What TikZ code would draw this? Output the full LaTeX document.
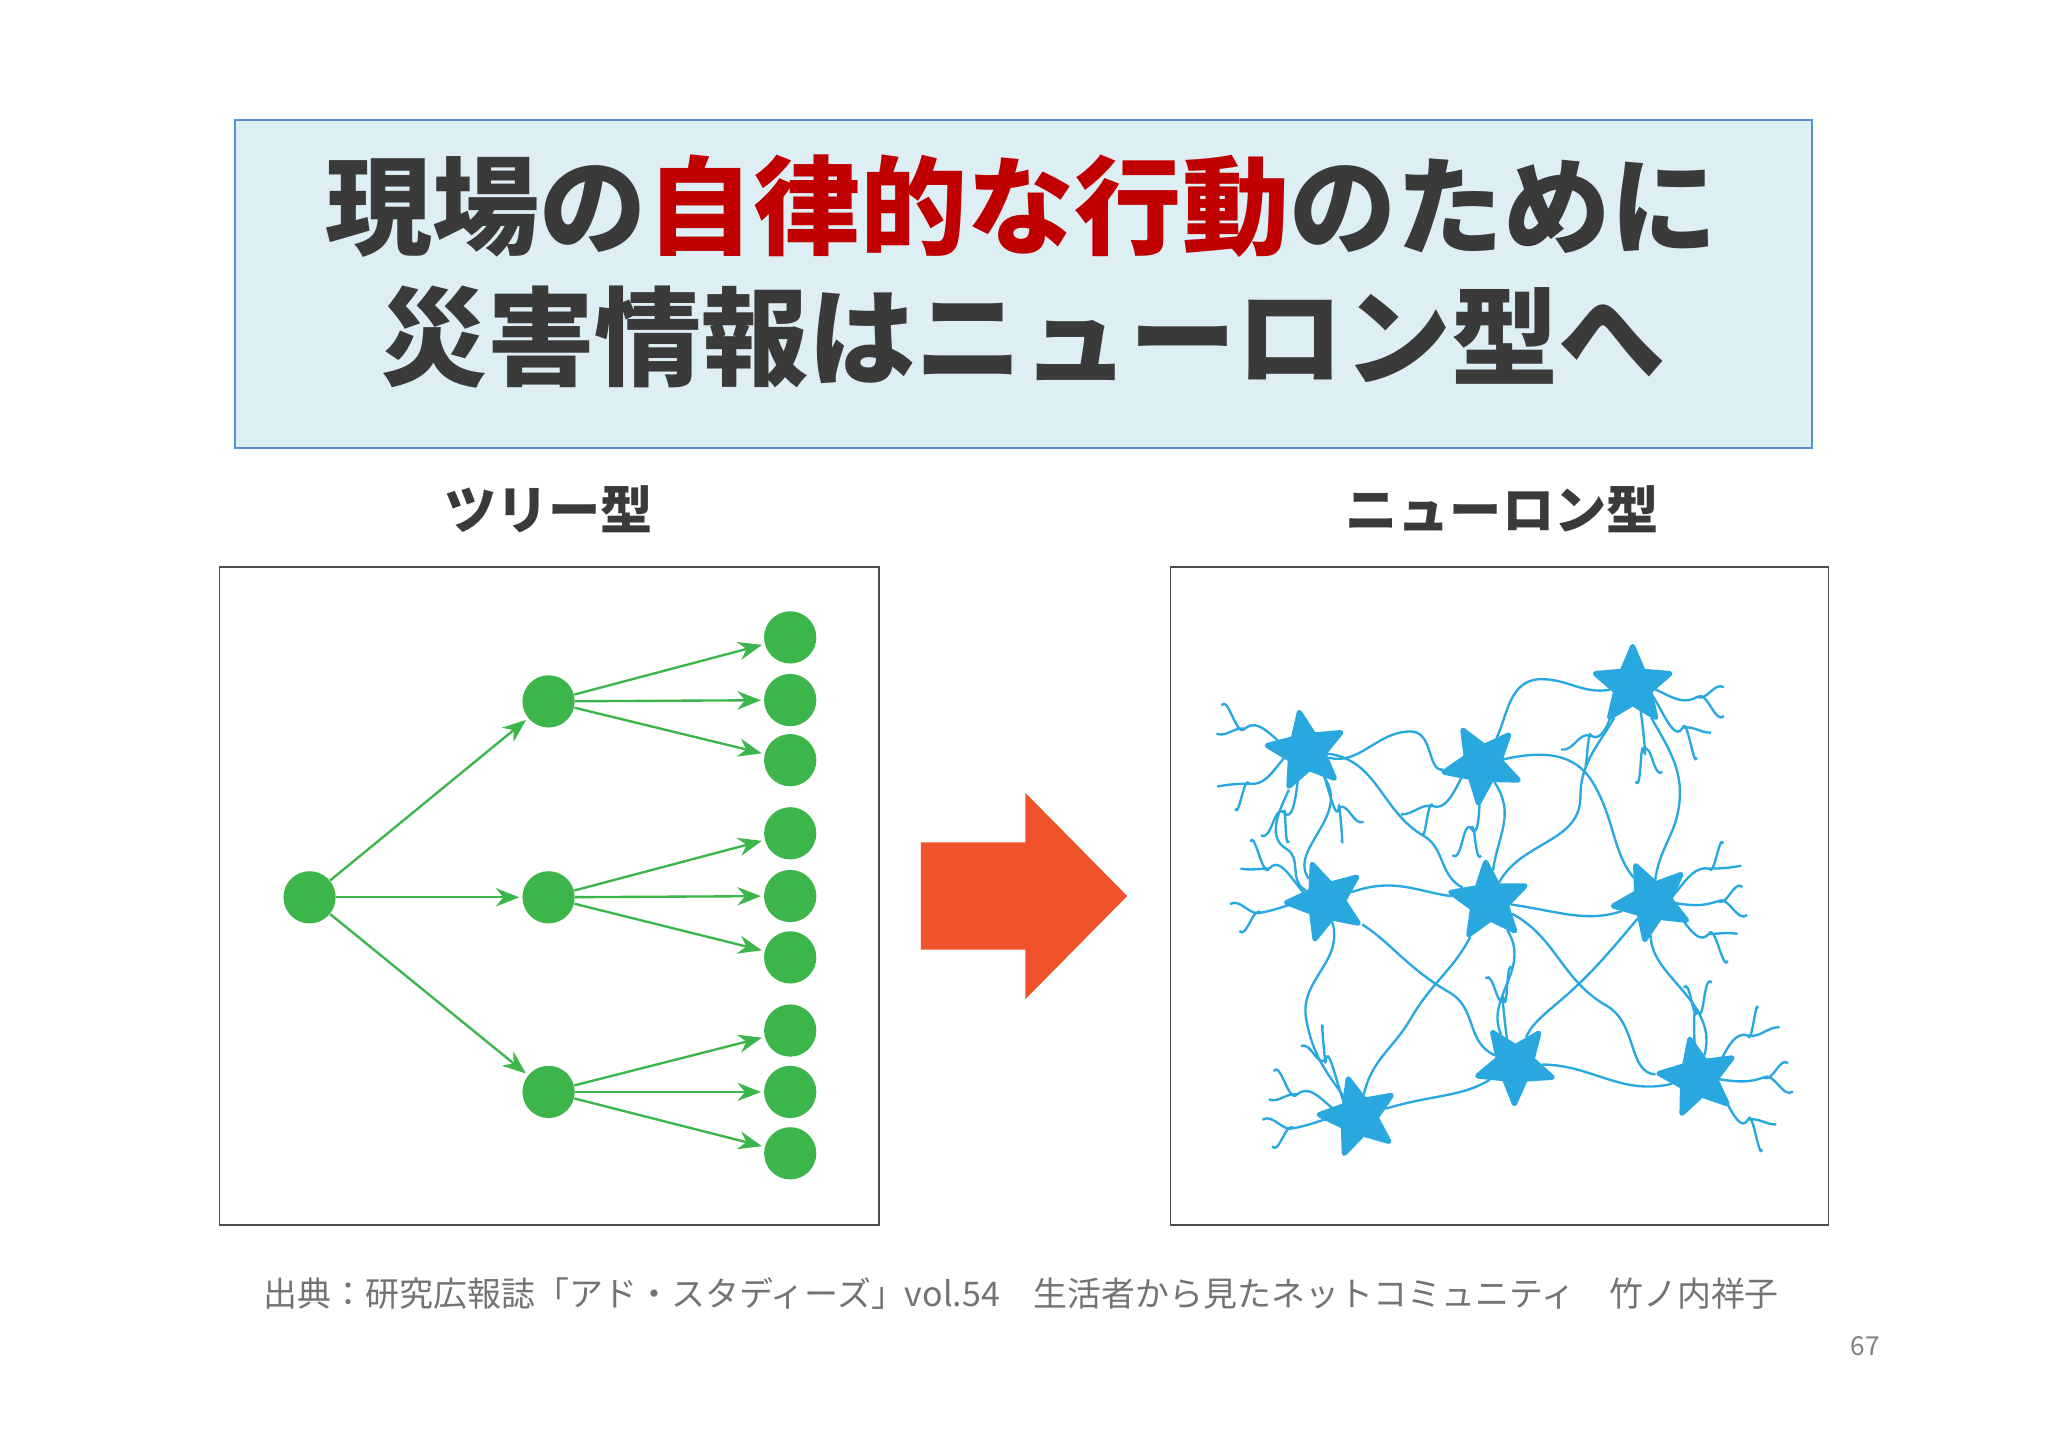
\documentclass[tikz,border=0pt]{standalone}
\usepackage{fontspec}
\setmainfont{Noto Sans CJK JP}
\usetikzlibrary{shapes.geometric,arrows.meta}
\definecolor{tgray}{HTML}{3A3A3A}
\definecolor{tred}{HTML}{C00000}
\definecolor{boxfill}{HTML}{DDEEF4}
\definecolor{boxline}{HTML}{5B8FCF}
\definecolor{tgreen}{HTML}{3CB54A}
\definecolor{narrow}{HTML}{F0522A}
\definecolor{nblue}{HTML}{29A8E0}
\begin{document}
\begin{tikzpicture}[x=0.5pt,y=-0.5pt,
  dot/.style={circle,fill=tgreen,inner sep=0,minimum size=20pt},
  tarr/.style={draw=tgreen,line width=0.9pt,-{Stealth[length=9pt,width=7pt]},shorten >=1pt},
  nbody/.style={star,star points=5,star point ratio=2.2,fill=nblue,draw=nblue,line width=2pt,line join=round,inner sep=0,minimum size=30pt},
  nline/.style={draw=nblue,line width=0.9pt},
  frame/.style={draw=black!70,line width=0.6pt}]
\useasboundingbox (0,0) rectangle (1568,1108);
% title
\node[draw=boxline,fill=boxfill,line width=0.7pt,minimum width=603.5pt,minimum height=125.5pt,inner sep=0] (title) at (783.5,217.5) {};
\node[text=tgray,font=\fontsize{41}{45}\selectfont\bfseries] (t1) at (782,158) {現場の\textcolor{tred}{自律的な行動}のために};
\node[text=tgray,font=\fontsize{41}{45}\selectfont\bfseries] (t2) at (783,258) {災害情報はニューロン型へ};
% labels
\node[text=tgray,font=\fontsize{20}{24}\selectfont\bfseries] (l1) at (420,390) {ツリー型};
\node[text=tgray,font=\fontsize{20}{24}\selectfont\bfseries] (l2) at (1150,390) {ニューロン型};
% frames
\node[frame,minimum width=252.5pt,minimum height=252pt,inner sep=0] (fl) at (420.5,686) {};
\node[frame,minimum width=252pt,minimum height=252pt,inner sep=0] (fr) at (1148,686) {};
% tree
\node[dot] (r) at (237,687) {};
\node[dot] (m1) at (420,537) {};
\node[dot] (m2) at (420,687) {};
\node[dot] (m3) at (420,836) {};
\foreach \n/\y in {a/488,b/536,c/582,d/638,e/686,f/733,g/789,h/836,i/883}{\node[dot] (\n) at (605,\y) {};}
\foreach \m in {m1,m2,m3}{\draw[tarr] (r) -- (\m);}
\foreach \m/\l in {m1/a,m1/b,m1/c,m2/d,m2/e,m2/f,m3/g,m3/h,m3/i}{\draw[tarr] (\m) -- (\l);}
% big arrow
\fill[narrow] (705,645) -- (785,645) -- (785,607) -- (863,686) -- (785,765) -- (785,727) -- (705,727) -- cycle;
\node[inner sep=0] (ba) at (784,686) {};
% neurons
\foreach \n/\x/\y/\r in {n1/1000/575/10,n2/1135/585/30,n3/1250/525/0,n4/1015/690/20,n5/1140/690/5,n6/1265/690/25,n7/1040/855/15,n8/1160/815/35,n9/1300/825/12}{\node[nbody,rotate=\r] (\n) at (\x,\y) {};}
\draw[nline] (n1) to[out=-20,in=180] (1080,560) to[out=0,in=170] (n2);
\draw[nline] (n1) to[out=-60,in=120] (n4);
\draw[nline] (n1) to[out=-10,in=150] (1090,640) to[out=-30,in=150] (n5);
\draw[nline] (n2) to[out=50,in=180] (1180,520) to[out=0,in=190] (n3);
\draw[nline] (n2) to[out=-70,in=80] (n5);
\draw[nline] (n2) to[out=0,in=120] (1220,600) to[out=-60,in=120] (n6);
\draw[nline] (n3) to[out=-120,in=90] (1210,610) to[out=-90,in=60] (n5);
\draw[nline] (n3) to[out=-60,in=80] (1285,620) to[out=-100,in=70] (n6);
\draw[nline] (n4) to[out=10,in=170] (n5);
\draw[nline] (n5) to[out=-10,in=190] (n6);
\draw[nline] (n4) to[out=-80,in=100] (1000,780) to[out=-80,in=120] (n7);
\draw[nline] (n4) to[out=-40,in=150] (1110,760) to[out=-30,in=140] (n8);
\draw[nline] (n5) to[out=-120,in=60] (1080,780) to[out=-120,in=70] (n7);
\draw[nline] (n5) to[out=-60,in=100] (n8);
\draw[nline] (n6) to[out=-100,in=70] (n9);
\draw[nline] (n6) to[out=-140,in=40] (1190,770) to[out=-140,in=50] (n8);
\draw[nline] (n7) to[out=10,in=200] (n8);
\draw[nline] (n8) to[out=-10,in=190] (n9);
\draw[nline] (n5) to[out=-30,in=150] (1230,770) to[out=-30,in=170] (n9);
\draw[nline] (n1) to[out=-120,in=150] (985,650) to[out=-30,in=140] (n4);
% dendrites
\foreach \n/\a in {n1/150,n1/110,n1/200,n1/60,n2/100,n2/140,n3/80,n3/40,n3/130,n4/170,n4/210,n6/0,n6/-30,n6/30,n7/200,n7/240,n7/170,n8/-100,n9/0,n9/-40,n9/40,n9/-90,n3/10}{
  \draw[nline] (\n.center) to[out=\a,in=\a+200] ++(\a:50) coordinate (e)
     (e) to[out=\a+30,in=\a+220] ++(\a+25:25)
     (e) to[out=\a-30,in=\a+140] ++(\a-30:22);}
% footer
\node[text=black!55,font=\fontsize{13}{16}\selectfont] (src) at (782,990) {出典：研究広報誌「アド・スタディーズ」vol.54　生活者から見たネットコミュニティ　竹ノ内祥子};
\node[text=black!50,font=\fontsize{10}{12}\selectfont] (pg) at (1428,1031) {67};
\end{tikzpicture}
\end{document}
